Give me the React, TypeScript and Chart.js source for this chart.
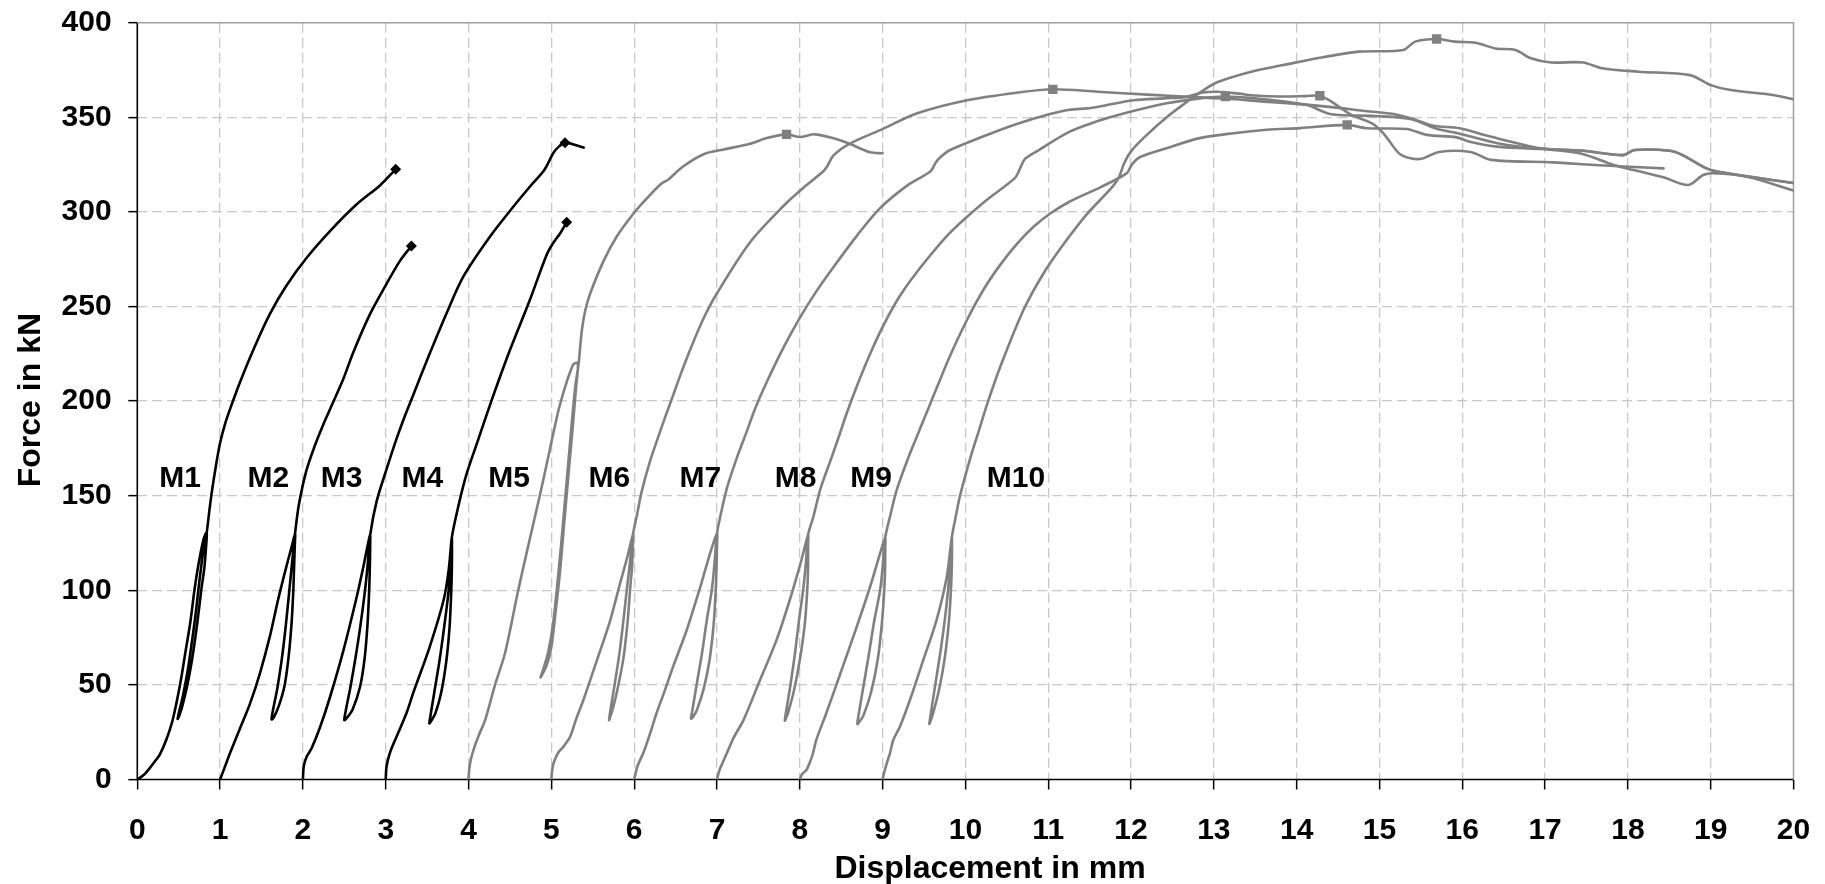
import React, { useEffect, useRef } from 'react';
import { Chart, registerables } from 'chart.js';

Chart.register(...registerables);

type P = [number, number];

// Force–displacement curves (x: displacement in mm, y: force in kN)
const M1: P[] = [
  [0, 0], [0.08, 2.5], [0.15, 6], [0.22, 10], [0.27, 13], [0.35, 21], [0.43, 32], [0.52, 51], [0.58, 67],
  [0.64, 83], [0.69, 100], [0.74, 114], [0.8, 127], [0.838, 130.5],
  [0.832, 124], [0.81, 112], [0.775, 101], [0.745, 90], [0.71, 78], [0.66, 63], [0.6, 49], [0.545, 39],
  [0.505, 33.5], [0.487, 32],
  [0.5, 35], [0.55, 44], [0.61, 58], [0.66, 73], [0.7, 86], [0.737, 100], [0.77, 112], [0.805, 123], [0.838, 130.5],
  [0.87, 142], [0.9, 152], [0.95, 166], [1.0, 178], [1.06, 188], [1.13, 197], [1.24, 210], [1.42, 229],
  [1.6, 246], [1.8, 261], [2.05, 276], [2.33, 290], [2.65, 304], [2.93, 314], [3.12, 322.5],
];

const M2: P[] = [
  [1, 0], [1.06, 7], [1.12, 14], [1.24, 27], [1.36, 40], [1.48, 56], [1.6, 75.5], [1.7, 95], [1.8, 112.5],
  [1.87, 124], [1.905, 130],
  [1.902, 124], [1.893, 112], [1.884, 100], [1.865, 84], [1.83, 66], [1.78, 50], [1.71, 39], [1.65, 33], [1.622, 31.8],
  [1.64, 37], [1.69, 48], [1.74, 62], [1.79, 80], [1.836, 100], [1.87, 115], [1.905, 130],
  [1.95, 145], [2.04, 163], [2.14, 176], [2.24, 187], [2.33, 196], [2.49, 212], [2.61, 226], [2.81, 246],
  [3.01, 262], [3.17, 274], [3.31, 282],
];

const M3: P[] = [
  [2, 0], [2.01, 7], [2.045, 12], [2.105, 16.5], [2.21, 28], [2.33, 44], [2.49, 68.4], [2.65, 96.6],
  [2.73, 112.5], [2.81, 129.2],
  [2.812, 124], [2.808, 112], [2.8, 100], [2.78, 82], [2.745, 64], [2.69, 49], [2.6, 37], [2.53, 32.5], [2.5, 31.4],
  [2.52, 37], [2.57, 48], [2.63, 63], [2.69, 80], [2.75, 100], [2.785, 115], [2.812, 129.2],
  [2.89, 147], [3.01, 164], [3.13, 180], [3.23, 192], [3.33, 203], [3.53, 225], [3.74, 247], [3.94, 266],
  [4.26, 287], [4.54, 302.7], [4.74, 313.3], [4.9, 321.2], [4.96, 325.6], [5.02, 330.9], [5.09, 334.5],
  [5.165, 336.6], [5.28, 335.5], [5.39, 334],
];

const M4: P[] = [
  [3, 0], [3.01, 7], [3.05, 14], [3.13, 22.6], [3.25, 35], [3.33, 45.5], [3.53, 70], [3.7, 95], [3.76, 110.7],
  [3.797, 127.5],
  [3.8, 122], [3.798, 110], [3.79, 98], [3.77, 80], [3.73, 62], [3.67, 46], [3.6, 35], [3.55, 31], [3.527, 29.7],
  [3.545, 35], [3.59, 47], [3.65, 63], [3.71, 82], [3.76, 100], [3.785, 115], [3.797, 127.5],
  [3.88, 145], [3.98, 162], [4.12, 180], [4.22, 193], [4.34, 208], [4.5, 227], [4.74, 253.4], [4.94, 277],
  [5.02, 283.4], [5.105, 288.6], [5.185, 294.5],
];

const M5: P[] = [
  [4, 0], [4.01, 6], [4.03, 11], [4.07, 17], [4.13, 24], [4.2, 31.4], [4.32, 50], [4.44, 66.7], [4.6, 100],
  [4.7, 119.5], [4.86, 150], [4.98, 174], [5.08, 194], [5.17, 208], [5.24, 217], [5.27, 219.6], [5.32, 220],
  [5.3, 208], [5.265, 190], [5.235, 175], [5.2, 158], [5.15, 133], [5.105, 110], [5.06, 92], [5.0, 70],
  [4.94, 60], [4.87, 54],
  [4.9, 58], [4.96, 67], [5.02, 82], [5.065, 100], [5.12, 125], [5.17, 150], [5.21, 170], [5.25, 190],
  [5.29, 208], [5.33, 220],
  [5.367, 237], [5.41, 248], [5.47, 257], [5.63, 274], [5.79, 287], [5.99, 299], [6.15, 307], [6.33, 315],
  [6.41, 317], [6.59, 324], [6.84, 330.5], [7.08, 333], [7.4, 336], [7.6, 339], [7.84, 341], [8.0, 339.6],
  [8.18, 341], [8.4, 339], [8.6, 336], [8.85, 331.5], [9.0, 331],
];

const M6: P[] = [
  [5, 0], [5.01, 5], [5.03, 9], [5.08, 14], [5.145, 17.3], [5.226, 22.6], [5.3, 32], [5.387, 42], [5.55, 63],
  [5.71, 84], [5.83, 103.7], [5.92, 118], [5.983, 129],
  [5.985, 124], [5.975, 113], [5.95, 100], [5.92, 83], [5.87, 64], [5.8, 48], [5.74, 37], [5.71, 33], [5.697, 31.4],
  [5.715, 37], [5.76, 49], [5.82, 66], [5.87, 84], [5.91, 100], [5.95, 115], [5.983, 129],
  [6.03, 139], [6.09, 152], [6.19, 168], [6.29, 181], [6.37, 191], [6.47, 203], [6.56, 214], [6.675, 227],
  [6.83, 243], [7.0, 257], [7.4, 284], [7.8, 303], [8.05, 313], [8.285, 321.5], [8.33, 324], [8.41, 330],
  [8.6, 336], [9.01, 344], [9.41, 352], [10.02, 359], [10.62, 363], [11.056, 364.8],
  [11.6, 363.5], [12.2, 362], [12.7, 360.8], [13.2, 359.7], [13.6, 358.3], [14.0, 357], [14.4, 355.5],
  [14.8, 353.5], [15.2, 351.5], [15.45, 348.5], [15.65, 345.5], [15.97, 344.2], [16.34, 339.8], [16.94, 333.6],
  [17.43, 330.9], [17.83, 324.8], [18.07, 322.1], [18.43, 318.3], [18.73, 314.2], [18.91, 319.5], [19.03, 320.4],
  [19.44, 318.6], [20.0, 311.3],
];

const M7: P[] = [
  [6, 0], [6.04, 7], [6.11, 14], [6.19, 24], [6.27, 35], [6.37, 47], [6.47, 59.6], [6.635, 79], [6.8, 102],
  [6.917, 119.5], [7.0, 130],
  [7.0, 124], [6.995, 113], [6.985, 100], [6.96, 82], [6.91, 63], [6.84, 48], [6.76, 37], [6.71, 33], [6.687, 32.2],
  [6.705, 37], [6.75, 49], [6.82, 67], [6.88, 85], [6.937, 100], [6.97, 114], [7.0, 130],
  [7.04, 139], [7.12, 154], [7.24, 170], [7.36, 184], [7.46, 196], [7.6, 210], [7.8, 228], [8.0, 244],
  [8.2, 258], [8.41, 271], [8.7, 288], [8.97, 302], [9.3, 314], [9.58, 321.5], [9.64, 326], [9.7, 329],
  [9.815, 332.7], [10.22, 340], [10.62, 346.5], [11.0, 351.5], [11.26, 354], [11.47, 354.7], [11.63, 355.8],
  [12.03, 359], [12.4, 360], [12.67, 360.8], [12.85, 363], [13.05, 363.5], [13.3, 362.5], [13.5, 361.5],
  [13.8, 361], [14.1, 361.2], [14.28, 361.4],
  [14.42, 358.3], [14.66, 351.3], [14.9, 347], [15.05, 341.4], [15.24, 330.8], [15.39, 328.2], [15.52, 328.2],
  [15.72, 331.7], [16.1, 331.7], [16.35, 327.5], [17.1, 326.2], [17.6, 324.8], [18.43, 323],
];

const M8: P[] = [
  [7, 0], [7.03, 5], [7.07, 9], [7.12, 14], [7.2, 22], [7.32, 31.4], [7.52, 52.6], [7.72, 73.8], [7.88, 95],
  [8.02, 116], [8.1, 129.2],
  [8.1, 124], [8.1, 112], [8.09, 100], [8.06, 82], [8.0, 63], [7.93, 47], [7.86, 35.5], [7.83, 32], [7.82, 31.1],
  [7.835, 36], [7.88, 48], [7.94, 66], [7.99, 84], [8.04, 100], [8.075, 115], [8.1, 129.2],
  [8.165, 139], [8.245, 153], [8.366, 168], [8.47, 181], [8.57, 194], [8.69, 208], [8.85, 225], [9.01, 240],
  [9.2, 255], [9.41, 268], [9.815, 289], [10.22, 305], [10.6, 318], [10.66, 323], [10.72, 328], [10.86, 332],
  [11.26, 342.4], [11.6, 348], [11.91, 352], [12.43, 357.4], [12.83, 360], [13.14, 361],
  [13.5, 360], [13.9, 358], [14.13, 356.5], [14.42, 351.6], [14.95, 350.7], [15.39, 349], [15.68, 344.1],
  [15.96, 341.4], [16.44, 336.2], [16.93, 333.5], [17.46, 332.3], [17.94, 330], [18.08, 332.7], [18.51, 332.3],
  [18.66, 330], [18.95, 323], [19.09, 321.2], [19.48, 318.5], [20.0, 315.3],
];

const M9: P[] = [
  [8, 0], [8.03, 3], [8.08, 5], [8.13, 10], [8.16, 14], [8.2, 21], [8.32, 35], [8.49, 56], [8.69, 81],
  [8.85, 102], [8.97, 119.5], [9.03, 127.5],
  [9.032, 122], [9.03, 112], [9.02, 100], [8.99, 82], [8.94, 63], [8.86, 46], [8.77, 34], [8.72, 30.5], [8.696, 29.3],
  [8.71, 34], [8.76, 47], [8.83, 65], [8.9, 84], [8.97, 100], [9.0, 112], [9.03, 127.5],
  [9.09, 139], [9.17, 153], [9.31, 170], [9.43, 183], [9.57, 198], [9.815, 224], [10.02, 243], [10.22, 259],
  [10.42, 272], [10.62, 283], [10.82, 292], [11.02, 299], [11.26, 305.5], [11.63, 313], [11.95, 320.5],
  [12.01, 325], [12.11, 329], [12.43, 333.7], [12.83, 339], [13.24, 341.6], [13.64, 343.4],
  [14.04, 344.3], [14.61, 346],
  [14.85, 344.2], [15.33, 343.8], [15.57, 340.7], [15.93, 339.4], [16.09, 337.1], [16.42, 334.5], [16.94, 333.3],
  [17.46, 332.3], [17.94, 330], [18.08, 332.7], [18.51, 332.3], [18.66, 330], [18.95, 323], [19.09, 321.2],
  [19.48, 318.5], [20.0, 315.3],
];

const M10: P[] = [
  [9, 0], [9.02, 4], [9.05, 8.5], [9.09, 14], [9.13, 21], [9.21, 28], [9.33, 42], [9.49, 63], [9.65, 84],
  [9.775, 107], [9.835, 127.5],
  [9.838, 122], [9.835, 112], [9.825, 100], [9.8, 83], [9.75, 64], [9.68, 47], [9.61, 35], [9.58, 31], [9.565, 29.4],
  [9.58, 34], [9.625, 47], [9.69, 65], [9.75, 84], [9.79, 100], [9.815, 113], [9.835, 127.5],
  [9.875, 137], [9.935, 150], [10.06, 170], [10.16, 184], [10.26, 198], [10.42, 218], [10.7, 248], [10.95, 268],
  [11.22, 285], [11.47, 299], [11.75, 312], [11.85, 318], [11.92, 326], [12.0, 332], [12.15, 339], [12.43, 350],
  [12.67, 358], [12.83, 363], [13.04, 368.5], [13.44, 374], [13.84, 377.6], [14.28, 381.5], [14.76, 384.7],
  [15.29, 385.6], [15.43, 390], [15.69, 391.4], [15.91, 390], [16.16, 389.4], [16.4, 386.4], [16.64, 385.6],
  [16.83, 381.2], [17.07, 379], [17.46, 379], [17.69, 375.9], [18.13, 374.1], [18.75, 372.3], [19.0, 367],
  [19.24, 364.4], [19.77, 361.7], [20.0, 359.5],
];

const blackCurves: P[][] = [M1, M2, M3, M4];
const grayCurves: P[][] = [M5, M6, M7, M8, M9, M10];

// End points (black diamonds) and peak points (gray squares)
const blackMarkers: P[] = [[3.12, 322.5], [3.31, 282], [5.165, 336.6], [5.185, 294.5]];
const grayMarkers: P[] = [[7.84, 341], [11.056, 364.8], [14.28, 361.4], [13.14, 361], [14.61, 346], [15.69, 391.4]];

// Curve labels
const labelNames = ['M1', 'M2', 'M3', 'M4', 'M5', 'M6', 'M7', 'M8', 'M9', 'M10'];
const labelX = [0.516, 1.582, 2.468, 3.443, 4.489, 5.7, 6.8, 7.95, 8.86, 10.61];
const labelY = [159, 159, 159, 159, 159, 159, 159, 159, 159, 159];

const xTitle = 'Displacement in mm';
const yTitle = 'Force in kN';

const FONT = "'Liberation Sans', Arial, Helvetica, sans-serif";

const toXY = (pts: P[]) => pts.map(([x, y]) => ({ x, y }));

export default function App() {
  const ref = useRef<HTMLCanvasElement | null>(null);

  useEffect(() => {
    if (!ref.current) return;

    const framePlugin = {
      id: 'frameAndLabels',
      beforeDatasetsDraw(chart: any) {
        const { ctx, chartArea: a } = chart;
        ctx.save();
        ctx.setLineDash([]);
        ctx.lineWidth = 1.5;
        ctx.strokeStyle = '#a0a0a0';
        ctx.beginPath();
        ctx.moveTo(a.left, a.top);
        ctx.lineTo(a.right, a.top);
        ctx.lineTo(a.right, a.bottom);
        ctx.stroke();
        ctx.strokeStyle = '#000';
        ctx.lineWidth = 1.6;
        ctx.beginPath();
        ctx.moveTo(a.left, a.top);
        ctx.lineTo(a.left, a.bottom);
        ctx.lineTo(a.right, a.bottom);
        ctx.stroke();
        ctx.restore();
      },
      afterDatasetsDraw(chart: any) {
        const { ctx, chartArea: a } = chart;
        const xs = chart.scales.x;
        const ys = chart.scales.y;
        ctx.save();
        ctx.font = `bold 30px ${FONT}`;
        ctx.fillStyle = '#000';
        ctx.textAlign = 'center';
        ctx.textBaseline = 'middle';
        labelNames.forEach((name, i) => {
          ctx.fillText(name, xs.getPixelForValue(labelX[i]), ys.getPixelForValue(labelY[i]));
        });
        // axis titles
        ctx.font = `bold 32px ${FONT}`;
        ctx.fillText(xTitle, 990, 869);
        ctx.translate(31, (a.top + a.bottom) / 2 - 1);
        ctx.rotate(-Math.PI / 2);
        ctx.fillText(yTitle, 0, 0);
        ctx.restore();
      },
    };

    const datasets: any[] = [];
    grayCurves.forEach((c, i) => {
      datasets.push({
        label: labelNames[i + 4],
        data: toXY(c),
        borderColor: '#808080',
        borderWidth: 2.6,
        pointRadius: 0,
        fill: false,
        order: 3,
      });
    });
    blackCurves.forEach((c, i) => {
      datasets.push({
        label: labelNames[i],
        data: toXY(c),
        borderColor: '#000000',
        borderWidth: 2.6,
        pointRadius: 0,
        fill: false,
        order: 2,
      });
    });
    datasets.push({
      label: 'peaks',
      data: toXY(grayMarkers),
      showLine: false,
      pointStyle: 'rect',
      pointRadius: 6.6,
      pointBackgroundColor: '#808080',
      pointBorderColor: '#808080',
      pointBorderWidth: 0,
      order: 1,
    });
    datasets.push({
      label: 'ends',
      data: toXY(blackMarkers),
      showLine: false,
      pointStyle: 'rectRot',
      pointRadius: 5.5,
      pointBackgroundColor: '#000',
      pointBorderColor: '#000',
      pointBorderWidth: 0,
      order: 0,
    });

    const tickFont = { family: FONT, size: 30, weight: 'bold' as const };

    const TARGET = { top: 22.7, right: 1793.5 };
    const pad = { left: 0, right: 1825 - TARGET.right, top: TARGET.top, bottom: 0 };

    const chart = new Chart(ref.current, {
      type: 'line',
      data: { datasets },
      plugins: [framePlugin],
      options: {
        animation: false,
        responsive: false,
        maintainAspectRatio: false,
        devicePixelRatio: 1,
        layout: { autoPadding: false, padding: { ...pad } },
        plugins: {
          legend: { display: false },
          tooltip: { enabled: false },
        },
        elements: {
          line: { tension: 0.3, borderJoinStyle: 'round', borderCapStyle: 'round' },
          point: { radius: 0, hoverRadius: 0 },
        },
        scales: {
          x: {
            type: 'linear',
            min: 0,
            max: 20,
            ticks: {
              stepSize: 1,
              autoSkip: false,
              maxRotation: 0,
              color: '#000',
              font: tickFont,
              padding: 23,
            },
            grid: {
              color: (c: any) =>
                c.tick && (c.tick.value === 0 || c.tick.value === 20) ? 'rgba(0,0,0,0)' : '#c8c8c8',
              lineWidth: 1.3,
              tickLength: 10,
              tickColor: '#000',
              tickWidth: 1.5,
            },
            border: { display: false, dash: [10, 5] },
            title: { display: false },
            afterFit: (s: any) => {
              s.height = 104.5;
              s.paddingLeft = 0;
              s.paddingRight = 0;
            },
          },
          y: {
            type: 'linear',
            min: 0,
            max: 400,
            ticks: {
              stepSize: 50,
              color: '#000',
              font: tickFont,
              padding: 16.7,
            },
            grid: {
              color: (c: any) =>
                c.tick && (c.tick.value === 0 || c.tick.value === 400) ? 'rgba(0,0,0,0)' : '#c8c8c8',
              lineWidth: 1.3,
              tickLength: 9,
              tickColor: '#000',
              tickWidth: 1.5,
            },
            border: { display: false, dash: [10, 5] },
            title: { display: false },
            afterFit: (s: any) => {
              s.width = 137.3;
              s.paddingTop = 0;
              s.paddingBottom = 0;
            },
          },
        },
      } as any,
    });

    // fine-tune the plot area to the reference frame
    const ca = chart.chartArea;
    const dt = TARGET.top - ca.top;
    const dr = ca.right - TARGET.right;
    if (Math.abs(dt) > 0.3 || Math.abs(dr) > 0.3) {
      (chart.options as any).layout.padding = {
        left: 0,
        right: Math.max(0, pad.right + dr),
        top: Math.max(0, pad.top + dt),
        bottom: 0,
      };
      chart.update();
    }

    return () => {
      chart.destroy();
    };
  }, []);

  return (
    <div style={{ position: 'absolute', left: 0, top: 0, width: 1825, height: 884, background: '#fff' }}>
      <canvas ref={ref} width={1825} height={884} style={{ display: 'block', width: 1825, height: 884 }} />
    </div>
  );
}
